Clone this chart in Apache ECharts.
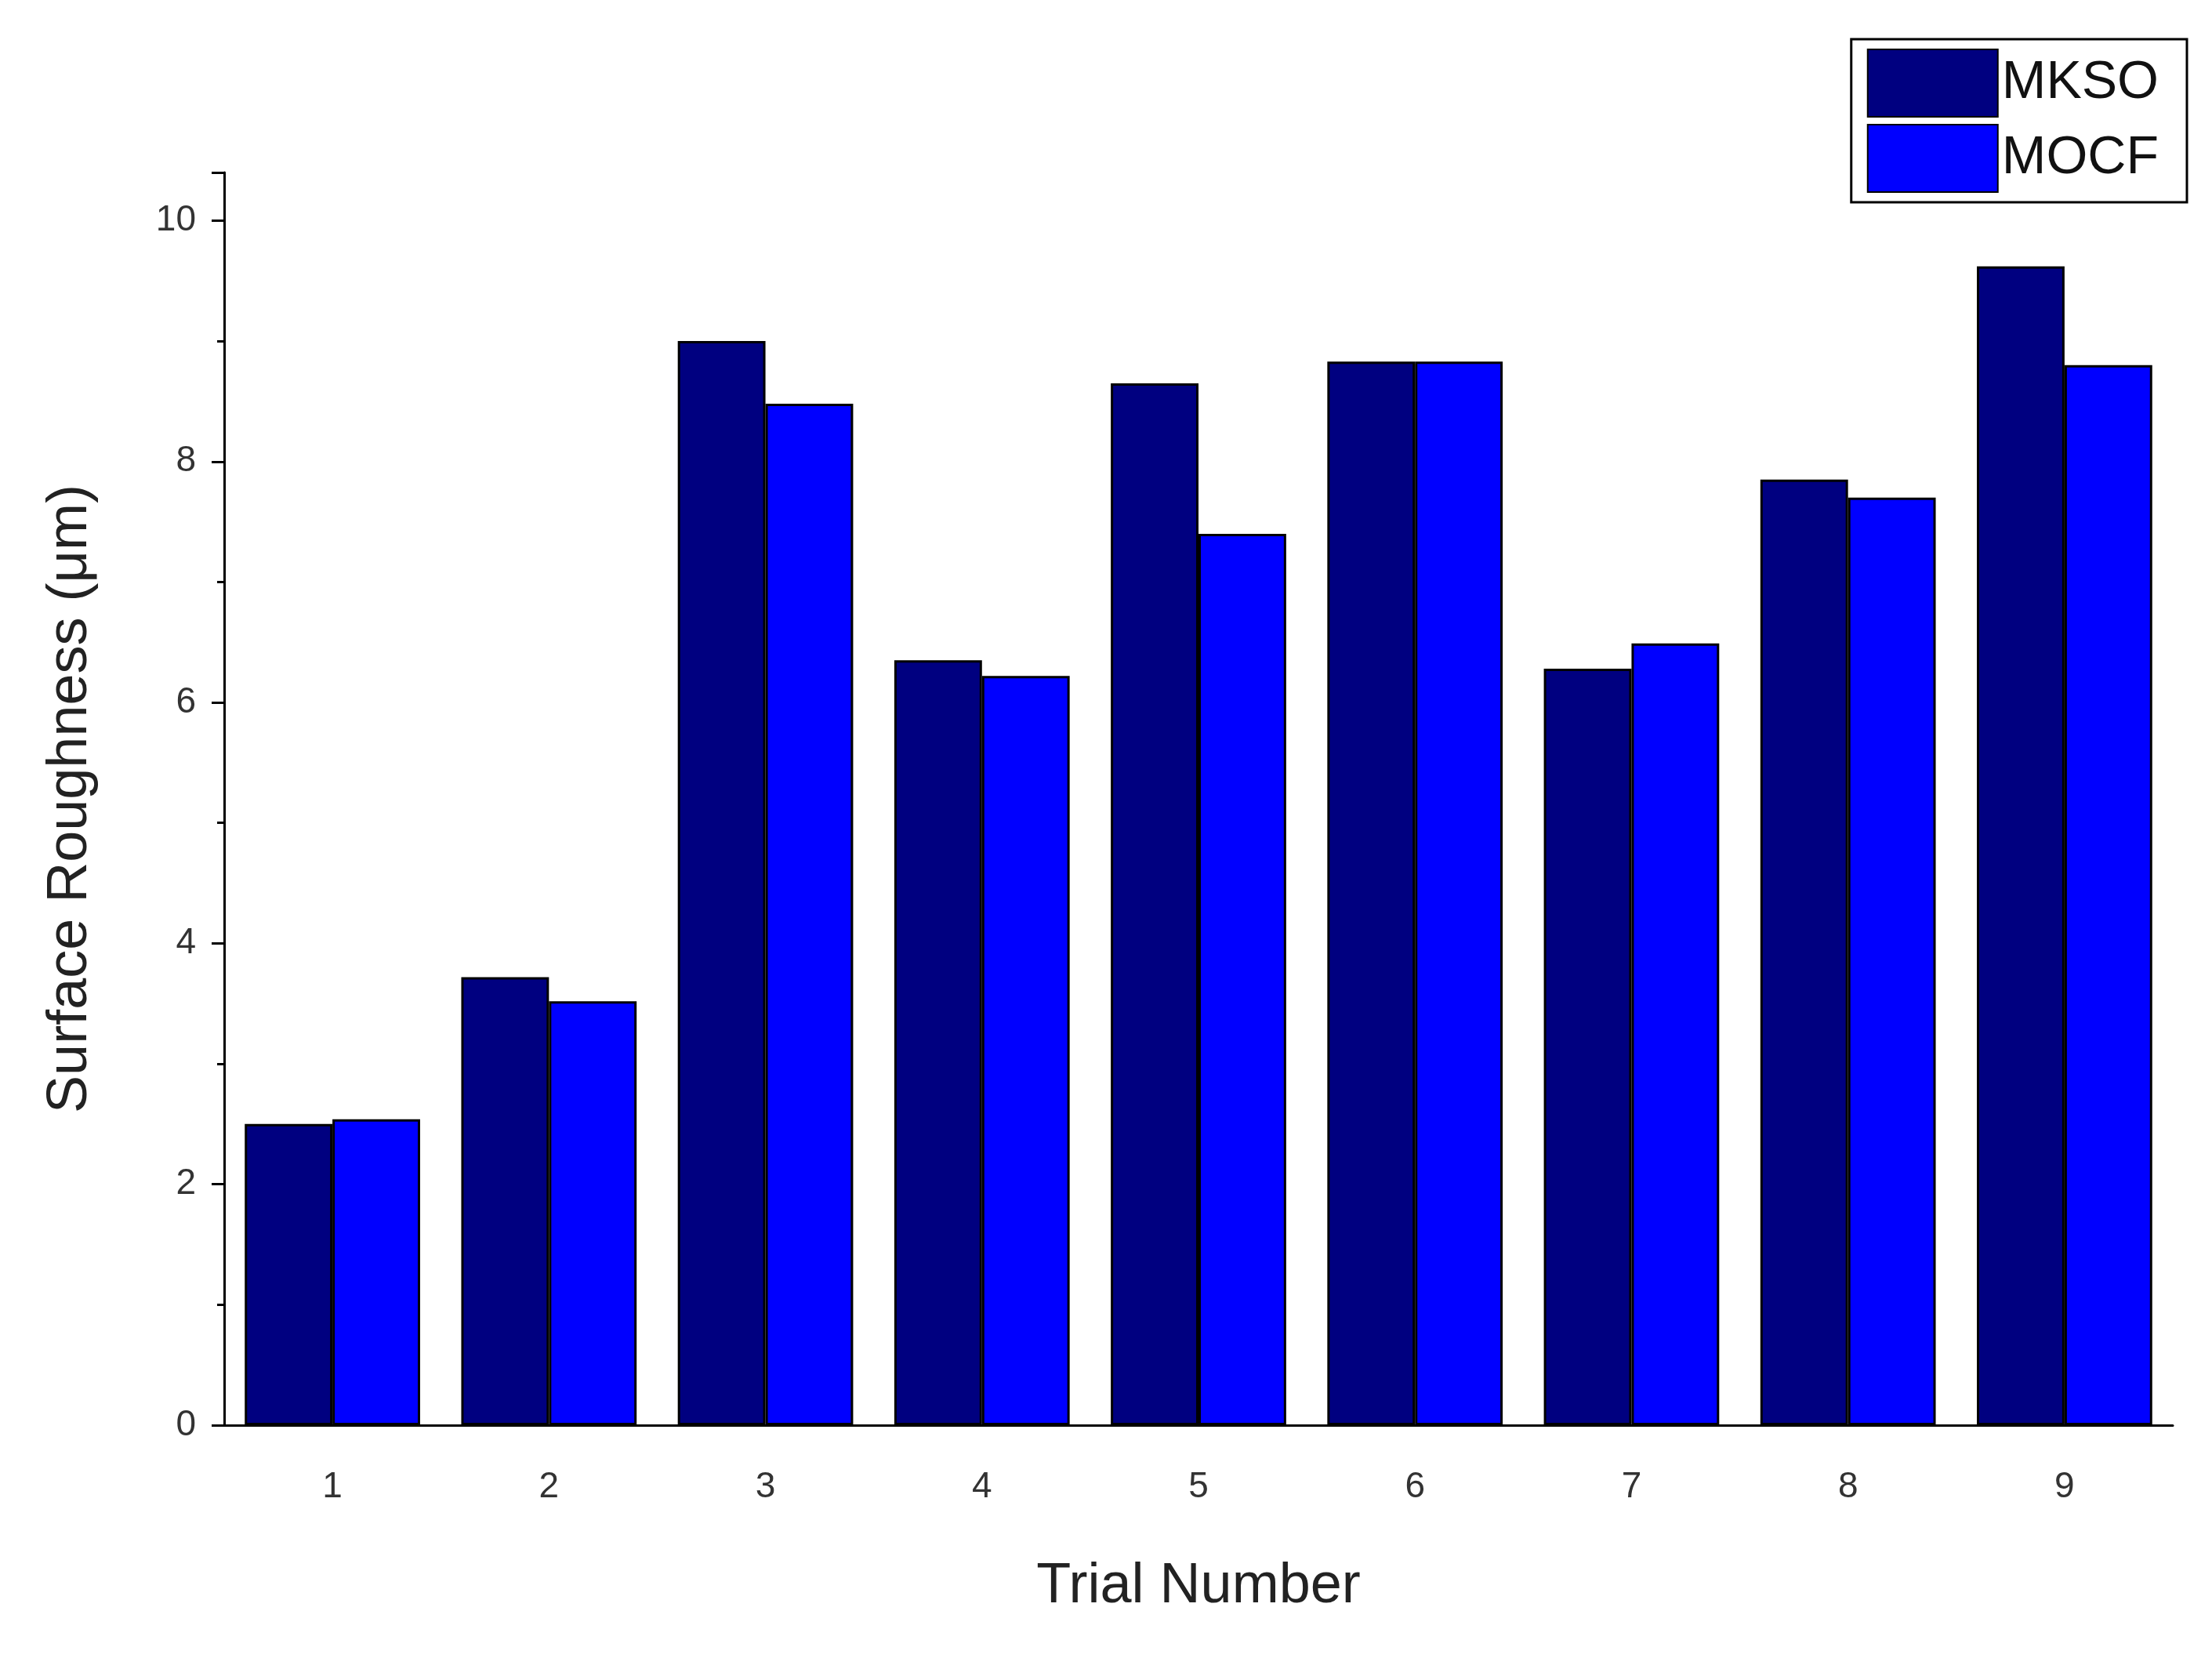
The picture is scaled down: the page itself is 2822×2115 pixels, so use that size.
<!DOCTYPE html>
<html><head><meta charset="utf-8">
<script src="https://cdn.jsdelivr.net/npm/echarts@6/dist/echarts.min.js"></script>
<style>html,body{margin:0;background:#fff}#c{width:2822px;height:2115px}</style>
</head><body><div id="c"></div>
<script>
const categories = ['1','2','3','4','5','6','7','8','9'];
const mkso = [2.5, 3.72, 9.0, 6.35, 8.65, 8.83, 6.28, 7.85, 9.62];
const mocf = [2.54, 3.52, 8.48, 6.22, 7.4, 8.83, 6.49, 7.7, 8.8];
const chart = echarts.init(document.getElementById('c'));
chart.setOption({
  backgroundColor: '#fff',
  animation: false,
  grid: {left: 286, right: 50, top: 220, bottom: 297},
  legend: {
    right: 32, top: 50, orient: 'vertical', icon: 'rect', itemWidth: 166, itemHeight: 86, itemGap: 8,
    padding: [12, 36, 12, 20], borderColor: '#000', borderWidth: 3,
    textStyle: {fontFamily: 'Arial, Liberation Sans', fontSize: 68, color: '#111'},
    data: ['MKSO', 'MOCF']
  },
  xAxis: {
    type: 'category', data: categories,
    name: 'Trial Number', nameLocation: 'middle', nameGap: 170,
    nameTextStyle: {fontFamily: 'Arial, Liberation Sans', fontSize: 72, color: '#222'},
    axisLine: {lineStyle: {color: '#000', width: 3}},
    axisTick: {lineStyle: {color: '#000', width: 3}, length: 14},
    axisLabel: {fontFamily: 'Arial, Liberation Sans', fontSize: 46, color: '#333', margin: 56}
  },
  yAxis: {
    type: 'value', min: 0, max: 10.4, interval: 2,
    name: 'Surface Roughness (μm)', nameLocation: 'middle', nameGap: 160,
    nameTextStyle: {fontFamily: 'Arial, Liberation Sans', fontSize: 72, color: '#222'},
    splitLine: {show: false},
    axisLine: {show: true, lineStyle: {color: '#000', width: 3}},
    axisTick: {show: true, lineStyle: {color: '#000', width: 3}, length: 16},
    minorTick: {show: true, splitNumber: 2, length: 9, lineStyle: {color: '#000', width: 3}},
    axisLabel: {fontFamily: 'Arial, Liberation Sans', fontSize: 46, color: '#333', margin: 36, showMaxLabel: false}
  },
  series: [
    {name: 'MKSO', type: 'bar', data: mkso, barGap: '0%', barCategoryGap: '19%',
     itemStyle: {color: '#000080', borderColor: '#000', borderWidth: 3}},
    {name: 'MOCF', type: 'bar', data: mocf,
     itemStyle: {color: '#0000FF', borderColor: '#000', borderWidth: 3}}
  ]
});
</script></body></html>
